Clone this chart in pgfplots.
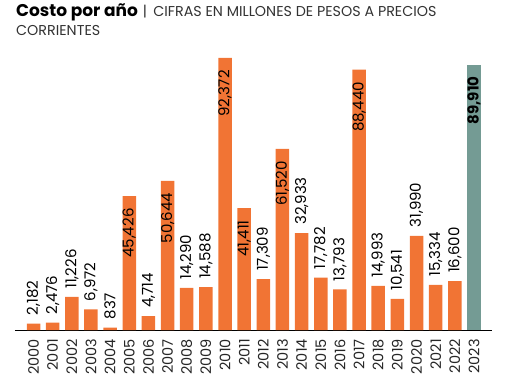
\documentclass[border=0pt]{standalone}
\usepackage{fontspec}
\setmainfont{Poppins}
\usepackage{pgfplots}
\pgfplotsset{compat=1.18}
\usepackage{pgfplotstable}
\definecolor{barorange}{RGB}{241,116,52}
\definecolor{barteal}{RGB}{116,155,148}
\pgfplotstableread{
x val
0 2182
1 2476
2 11226
3 6972
4 837
6 4714
8 14290
9 14588
12 17309
14 32933
15 17782
16 13793
18 14993
19 10541
20 31990
21 15334
22 16600
}\above
\pgfplotstableread{
x val
5 45426
7 50644
10 92372
11 41411
13 61520
17 88440
}\inside
\pgfplotstableread{
x val
23 89910
}\last
\begin{document}
\begin{tikzpicture}
\useasboundingbox (-15pt,-56pt) rectangle (492pt,330pt);
\node[anchor=base west,inner sep=0pt] at (1pt,313pt) {{\fontsize{17}{19}\selectfont\textbf{Costo por año}} {\fontsize{14.3}{16}\selectfont\textcolor{black!80}{\,|\, CIFRAS EN MILLONES DE PESOS A PRECIOS}}};
\node[anchor=base west,inner sep=0pt,font=\fontsize{14.3}{16}\selectfont] at (1pt,294pt) {\textcolor{black!80}{CORRIENTES}};
\begin{axis}[
  at={(0pt,0pt)}, anchor=south west,
  scale only axis, width=477pt, height=300pt,
  xmin=-0.966, xmax=23.94, ymin=0, ymax=101880,
  axis x line=bottom, axis y line=none,
  axis line style={-, black, line width=0.9pt},
  ybar, bar width=13.5pt, bar shift=0pt,
  xtick={0,...,23},
  xticklabels={2000,2001,2002,2003,2004,2005,2006,2007,2008,2009,2010,2011,2012,2013,2014,2015,2016,2017,2018,2019,2020,2021,2022,2023},
  major tick length=0pt,
  xticklabel shift=9pt,
  x tick label style={rotate=90, anchor=east, inner sep=0pt, font=\fontsize{14.5}{14.5}\selectfont, text=black!85},
  /pgf/number format/assume math mode=true,
  /pgf/number format/1000 sep={,},
  /pgf/number format/fixed, /pgf/number format/precision=0,
  clip=false,
]
\addplot[fill=barorange, draw=none, nodes near coords,
  every node near coord/.style={rotate=90, anchor=west, inner sep=0pt, xshift=8pt, font=\fontsize{15}{15}\selectfont, text=black}]
  table[x=x,y=val] {\above};
\addplot[fill=barorange, draw=none, nodes near coords,
  every node near coord/.style={rotate=90, anchor=east, inner sep=0pt, xshift=-12pt, font=\fontsize{15}{15}\selectfont, text=black}]
  table[x=x,y=val] {\inside};
\addplot[fill=barteal, draw=none, nodes near coords,
  every node near coord/.style={rotate=90, anchor=east, inner sep=0pt, xshift=-11pt, font=\bfseries\fontsize{15}{15}\selectfont, text=black}]
  table[x=x,y=val] {\last};
\end{axis}
\end{tikzpicture}
\end{document}
